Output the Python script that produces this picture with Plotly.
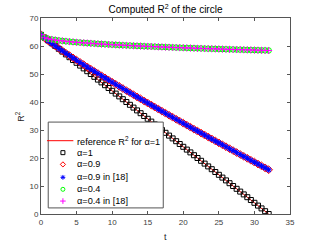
import plotly.graph_objects as go

t = [0, 0.5, 1, 1.5, 2, 2.5, 3, 3.5, 4, 4.5, 5, 5.5, 6, 6.5, 7, 7.5, 8, 8.5, 9, 9.5,
     10, 10.5, 11, 11.5, 12, 12.5, 13, 13.5, 14, 14.5, 15, 15.5, 16, 16.5, 17, 17.5,
     18, 18.5, 19, 19.5, 20, 20.5, 21, 21.5, 22, 22.5, 23, 23.5, 24, 24.5, 25, 25.5,
     26, 26.5, 27, 27.5, 28, 28.5, 29, 29.5, 30, 30.5, 31, 31.5, 32]

ref_t = [0, 32]
ref_r2 = [64, 0]

r2_a1 = [64, 63, 62, 61, 60, 59, 58, 57, 56, 55, 54, 53, 52, 51, 50, 49, 48, 47, 46, 45,
         44, 43, 42, 41, 40, 39, 38, 37, 36, 35, 34, 33, 32, 31, 30, 29, 28, 27, 26, 25,
         24, 23, 22, 21, 20, 19, 18, 17, 16, 15, 14, 13, 12, 11, 10, 9, 8, 7, 6, 5,
         4, 3, 2, 1, 0]

r2_a09 = [64.00, 62.86, 61.87, 60.93, 60.03, 59.14, 58.27, 57.42, 56.58, 55.75,
          54.93, 54.12, 53.32, 52.52, 51.73, 50.94, 50.16, 49.38, 48.61, 47.84,
          47.08, 46.32, 45.57, 44.81, 44.06, 43.32, 42.58, 41.83, 41.10, 40.36,
          39.63, 38.90, 38.17, 37.45, 36.73, 36.00, 35.28, 34.57, 33.85, 33.14,
          32.43, 31.72, 31.01, 30.30, 29.60, 28.90, 28.19, 27.50, 26.80, 26.10,
          25.40, 24.71, 24.02, 23.33, 22.64, 21.95, 21.26, 20.58, 19.89, 19.20,
          18.52, 17.84, 17.16, 16.48, 15.81]

r2_a09_ref18 = [64.00, 62.86, 61.87, 60.93, 60.03, 59.14, 58.27, 57.42, 56.58, 55.75,
                54.93, 54.12, 53.32, 52.52, 51.73, 50.94, 50.16, 49.38, 48.61, 47.84,
                47.08, 46.32, 45.57, 44.81, 44.06, 43.32, 42.58, 41.83, 41.10, 40.36,
                39.63, 38.90, 38.17, 37.45, 36.73, 36.00, 35.28, 34.57, 33.85, 33.14,
                32.43, 31.72, 31.01, 30.30, 29.60, 28.90, 28.19, 27.50, 26.80, 26.10,
                25.40, 24.71, 24.02, 23.33, 22.64, 21.95, 21.26, 20.58, 19.89, 19.20,
                18.52, 17.84, 17.16, 16.48, 15.81]

r2_a04 = [64.00, 62.94, 62.60, 62.35, 62.15, 61.98, 61.83, 61.69, 61.56, 61.45,
          61.33, 61.23, 61.13, 61.04, 60.95, 60.87, 60.78, 60.70, 60.63, 60.55,
          60.48, 60.41, 60.35, 60.28, 60.22, 60.16, 60.09, 60.03, 59.98, 59.92,
          59.86, 59.81, 59.76, 59.70, 59.65, 59.60, 59.55, 59.50, 59.45, 59.41,
          59.36, 59.31, 59.27, 59.22, 59.18, 59.14, 59.09, 59.05, 59.01, 58.97,
          58.93, 58.89, 58.85, 58.81, 58.77, 58.73, 58.69, 58.65, 58.62, 58.58,
          58.54, 58.51, 58.47, 58.44, 58.40]

r2_a04_ref18 = [64.00, 62.94, 62.60, 62.35, 62.15, 61.98, 61.83, 61.69, 61.56, 61.45,
                61.33, 61.23, 61.13, 61.04, 60.95, 60.87, 60.78, 60.70, 60.63, 60.55,
                60.48, 60.41, 60.35, 60.28, 60.22, 60.16, 60.09, 60.03, 59.98, 59.92,
                59.86, 59.81, 59.76, 59.70, 59.65, 59.60, 59.55, 59.50, 59.45, 59.41,
                59.36, 59.31, 59.27, 59.22, 59.18, 59.14, 59.09, 59.05, 59.01, 58.97,
                58.93, 58.89, 58.85, 58.81, 58.77, 58.73, 58.69, 58.65, 58.62, 58.58,
                58.54, 58.51, 58.47, 58.44, 58.40]

x_ticks = [0, 5, 10, 15, 20, 25, 30, 35]
y_ticks = [0, 10, 20, 30, 40, 50, 60, 70]

legend_labels = ["reference R<sup>2</sup> for α=1", "α=1", "α=0.9", "α=0.9 in [18]",
                 "α=0.4", "α=0.4 in [18]"]

FONT = "Liberation Sans, Arial, sans-serif"
AX = "#555555"

series = [
    dict(y=r2_a1, symbol="square-open", size=5, color="#000000", lw=1),
    dict(y=r2_a09, symbol="diamond-open", size=6, color="#FF0000", lw=1),
    dict(y=r2_a09_ref18, symbol="asterisk-open", size=5, color="#0000FF", lw=1.1),
    dict(y=r2_a04, symbol="circle-open", size=5.5, color="#00FF00", lw=1),
    dict(y=r2_a04_ref18, symbol="cross-thin-open", size=5, color="#FF00FF", lw=1),
]

fig = go.Figure()
fig.add_trace(go.Scatter(x=ref_t, y=ref_r2, mode="lines",
                         line=dict(color="#FF0000", width=1), showlegend=False))
for s in series:
    fig.add_trace(go.Scatter(x=t, y=s["y"], mode="markers", showlegend=False,
                             marker=dict(symbol=s["symbol"], size=s["size"], color=s["color"],
                                         line=dict(width=s["lw"], color=s["color"]))))

# --- custom legend (overlay axes in plot-fraction coordinates) ---
lx0, lx1, ly0, ly1 = 0.029, 0.491, 0.031, 0.469
fig.add_trace(go.Scatter(x=[lx0, lx1, lx1, lx0, lx0], y=[ly0, ly0, ly1, ly1, ly0],
                         mode="lines", fill="toself", fillcolor="white",
                         line=dict(color=AX, width=1), xaxis="x2", yaxis="y2",
                         showlegend=False, hoverinfo="skip"))
entry_y = [0.374, 0.313, 0.253, 0.187, 0.126, 0.066]
fig.add_trace(go.Scatter(x=[0.024, 0.130], y=[entry_y[0], entry_y[0]], mode="lines",
                         line=dict(color="#FF0000", width=1), xaxis="x2", yaxis="y2",
                         showlegend=False, hoverinfo="skip"))
for s, ey in zip(series, entry_y[1:]):
    fig.add_trace(go.Scatter(x=[0.088], y=[ey], mode="markers", xaxis="x2", yaxis="y2",
                             showlegend=False, hoverinfo="skip",
                             marker=dict(symbol=s["symbol"], size=4, color=s["color"],
                                         line=dict(width=1, color=s["color"]))))

annotations = []
for lab, ey in zip(legend_labels, entry_y):
    annotations.append(dict(text=lab, x=0.135, y=ey, xref="paper", yref="paper",
                            xanchor="left", yanchor="middle", showarrow=False,
                            font=dict(size=9.2, color="#000000", family=FONT)))
annotations.append(dict(text="t", x=0.5, y=-0.08, xref="paper", yref="paper",
                        xanchor="center", yanchor="top", showarrow=False,
                        font=dict(size=9, color="#262626", family=FONT)))
annotations.append(dict(text="R<sup>2</sup>", x=-0.085, y=0.5, xref="paper", yref="paper",
                        xanchor="center", yanchor="middle", showarrow=False, textangle=-90,
                        font=dict(size=9, color="#262626", family=FONT)))

axis_common = dict(showline=True, mirror="ticks", linecolor=AX, linewidth=1,
                   ticks="inside", ticklen=3, tickcolor=AX, showgrid=False,
                   zeroline=False, automargin=False,
                   tickfont=dict(size=8, color="#404040", family=FONT))

fig.update_layout(
    width=321, height=241,
    margin=dict(l=41, r=31, t=18, b=27),
    paper_bgcolor="white", plot_bgcolor="white",
    font=dict(family=FONT, size=9, color="#262626"),
    title=dict(text="Computed R<sup>2</sup> of the circle", x=0.5, xanchor="center",
               xref="paper", y=0.975, yanchor="top", font=dict(size=10, color="#000000")),
    xaxis=dict(range=[0, 35], tickvals=x_ticks, **axis_common),
    yaxis=dict(range=[0, 70], tickvals=y_ticks, **axis_common),
    xaxis2=dict(range=[0, 1], overlaying="x", visible=False, fixedrange=True),
    yaxis2=dict(range=[0, 1], overlaying="y", visible=False, fixedrange=True),
    annotations=annotations,
    showlegend=False,
)

fig.write_html("out.html", config={"displayModeBar": False},
               post_script="document.body.style.margin='0px';document.body.style.padding='0px';")
